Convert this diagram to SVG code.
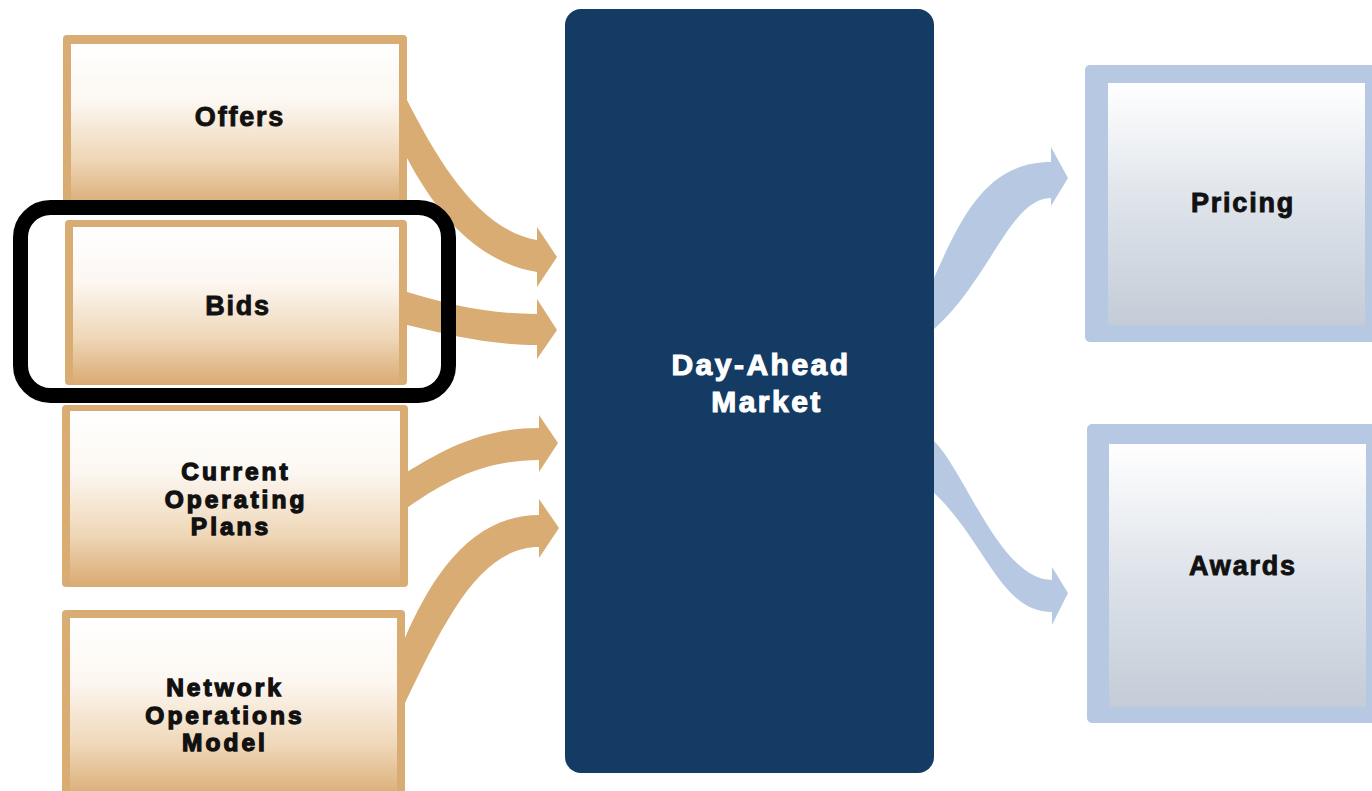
<svg xmlns="http://www.w3.org/2000/svg" width="1372" height="791" viewBox="0 0 1372 791">
  <defs>
    <linearGradient id="tanGrad" x1="0" y1="0" x2="0" y2="1">
      <stop offset="0" stop-color="#FFFFFF"/>
      <stop offset="0.35" stop-color="#FCF7F1"/>
      <stop offset="0.7" stop-color="#EFD7B8"/>
      <stop offset="1" stop-color="#D9AA72"/>
    </linearGradient>
    <linearGradient id="blueGrad" x1="0" y1="0" x2="0" y2="1">
      <stop offset="0" stop-color="#FFFFFF"/>
      <stop offset="0.5" stop-color="#DEE3EA"/>
      <stop offset="1" stop-color="#C3CCD7"/>
    </linearGradient>
  </defs>
  <style>
    .tanOuter { fill: #D9AC74; }
    .tanInner { fill: url(#tanGrad); }
    .blueOuter { fill: #B7C8E3; }
    .blueInner { fill: url(#blueGrad); }
    .lbl { font-family: "Liberation Sans", Arial, sans-serif; font-weight: bold; font-size: 27px; fill: #111111; stroke: #111111; stroke-width: 0.9; letter-spacing: 1.8px; text-anchor: middle; }
    .ml { font-size: 24.5px; stroke-width: 1.3; letter-spacing: 3px; }
    .dam { font-family: "Liberation Sans", Arial, sans-serif; font-weight: bold; font-size: 30px; fill: #FFFFFF; stroke: #FFFFFF; stroke-width: 1.1; letter-spacing: 2.5px; text-anchor: middle; }
    .tanArrow { fill: #D9AC74; }
    .blueArrow { fill: #B7C8E3; }
  </style>
  <rect width="1372" height="791" fill="#FFFFFF"/>

  <g id="connectors">
    <path class="tanArrow" d="M407,100 C440,165 480,230 537,240 L537,227 L557,257 L537,287 L537,272 C480,262 440,220 407,158 Z"/>
    <path class="tanArrow" d="M407,292 C450,305 490,314 537,314 L537,299 L557,330 L537,359 L537,345 C490,345 450,335 407,325 Z"/>
    <path class="tanArrow" d="M407,472 C440,452 480,428 539,428 L539,415 L558,443 L539,472 L539,460 C480,460 440,485 407,508 Z"/>
    <path class="tanArrow" d="M405,638 C430,580 470,515 539,515 L539,499 L559,528 L539,558 L539,547 C480,547 445,620 405,703 Z"/>
    <path class="blueArrow" d="M933,280 C960,220 985,162 1051,162 L1051,147 L1068,178 L1051,206 L1051,198 C1010,198 990,280 933,330 Z"/>
    <path class="blueArrow" d="M933,440 C965,470 1000,580 1052,580 L1052,567 L1068,593 L1052,625 L1052,612 C1000,612 985,540 933,492 Z"/>
  </g>

  <g id="offers">
    <rect class="tanOuter" x="63" y="35" width="344" height="173" rx="4"/>
    <rect class="tanInner" x="71" y="44" width="328" height="164"/>
    <text class="lbl" x="240" y="126">Offers</text>
  </g>

  <g id="bids">
    <rect class="tanOuter" x="65" y="220" width="342" height="165" rx="4"/>
    <rect class="tanInner" x="73" y="227" width="326" height="158"/>
    <text class="lbl" x="238" y="315">Bids</text>
  </g>

  <g id="current-operating-plans">
    <rect class="tanOuter" x="62" y="405" width="346" height="182" rx="4"/>
    <rect class="tanInner" x="70" y="411" width="330" height="176"/>
    <text class="lbl ml" x="236" y="480">Current</text>
    <text class="lbl ml" x="236" y="508">Operating</text>
    <text class="lbl ml" x="231" y="535">Plans</text>
  </g>

  <g id="network-operations-model">
    <rect class="tanOuter" x="62" y="610" width="343" height="190" rx="4"/>
    <rect class="tanInner" x="70" y="618" width="327" height="182"/>
    <text class="lbl ml" x="225" y="696">Network</text>
    <text class="lbl ml" x="225" y="724">Operations</text>
    <text class="lbl ml" x="225" y="751">Model</text>
  </g>

  <g id="day-ahead-market">
    <rect x="565" y="9" width="369" height="764" rx="16" fill="#143B63"/>
    <text class="dam" x="761" y="375">Day-Ahead</text>
    <text class="dam" x="767" y="412">Market</text>
  </g>

  <g id="pricing">
    <rect class="blueOuter" x="1085" y="65" width="300" height="277" rx="5"/>
    <rect class="blueInner" x="1108" y="83" width="257" height="242"/>
    <text class="lbl" x="1243" y="212">Pricing</text>
  </g>

  <g id="awards">
    <rect class="blueOuter" x="1087" y="424" width="300" height="299" rx="5"/>
    <rect class="blueInner" x="1109" y="444" width="257" height="263"/>
    <text class="lbl" x="1243" y="575">Awards</text>
  </g>

  <g id="highlight">
    <rect x="20.5" y="207.5" width="428" height="188" rx="30" fill="none" stroke="#000000" stroke-width="15"/>
  </g>
</svg>
